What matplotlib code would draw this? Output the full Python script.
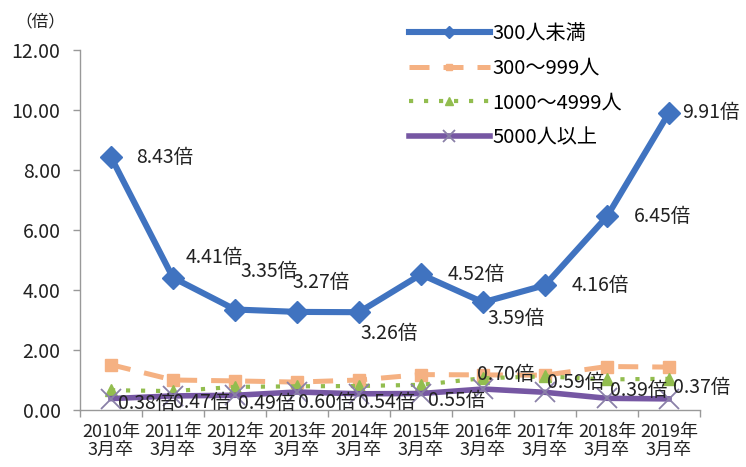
import matplotlib
matplotlib.use("Agg")
import matplotlib.pyplot as plt
from matplotlib.ticker import FixedLocator, NullFormatter

plt.rcParams['font.family'] = ['Noto Sans CJK JP', 'DejaVu Sans']

years = ["2010年\n3月卒", "2011年\n3月卒", "2012年\n3月卒", "2013年\n3月卒", "2014年\n3月卒",
         "2015年\n3月卒", "2016年\n3月卒", "2017年\n3月卒", "2018年\n3月卒", "2019年\n3月卒"]
under_300 = [8.43, 4.41, 3.35, 3.27, 3.26, 4.52, 3.59, 4.16, 6.45, 9.91]
from_300_999 = [1.51, 1.00, 0.97, 0.93, 1.00, 1.18, 1.17, 1.16, 1.45, 1.43]
from_1000_4999 = [0.66, 0.63, 0.77, 0.79, 0.80, 0.84, 1.06, 1.12, 1.02, 1.04]
over_5000 = [0.38, 0.47, 0.49, 0.60, 0.54, 0.55, 0.70, 0.59, 0.39, 0.37]
series_names = ["300人未満", "300～999人", "1000～4999人", "5000人以上"]

# label offsets in pixels (dx to left edge, dy upward)
off_under_300 = [(25, 0), (13, 20), (5, 38), (-5, 29), (1, -21),
                 (27, 0), (4, -16), (27, 0), (27, 0), (13, 0)]
off_over_5000 = [(7, -5), (0, -7), (3, -8), (1, -11), (-1, -9),
                 (7, -7), (-6, 14), (2, 10), (3, 8), (4, 11)]

FS = 14

fig = plt.figure(figsize=(7.46, 4.67), dpi=100)
ax = fig.add_axes([80 / 746, 57 / 467, 620 / 746, 360 / 467])

x = list(range(len(years)))

blue = "#4073c0"
orange = "#f5b182"
green = "#92bd4f"
purple = "#7657a3"

ax.plot(x, from_300_999, color=orange, lw=3.6, dashes=(4, 2.8),
        marker="s", ms=8, mfc=orange, mec=orange, label=series_names[1], zorder=3)
ax.plot(x, from_1000_4999, color=green, lw=3.0, dashes=(1, 2.6),
        marker="^", ms=9, mfc=green, mec=green, label=series_names[2], zorder=3)
ax.plot(x, over_5000, color=purple, lw=4.0,
        marker="x", ms=15, mec="#8a80a8", mew=1.3, label=series_names[3], zorder=4)
ax.plot(x, under_300, color=blue, lw=4.4,
        marker="D", ms=11, mfc=blue, mec=blue, label=series_names[0], zorder=5)

for i, v in enumerate(under_300):
    ax.annotate(f"{v:.2f}倍", (i, v), xytext=off_under_300[i], textcoords="offset pixels",
                ha="left", va="center", fontsize=FS, color="#222222", zorder=6)
for i, v in enumerate(over_5000):
    ax.annotate(f"{v:.2f}倍", (i, v), xytext=off_over_5000[i], textcoords="offset pixels",
                ha="left", va="center", fontsize=FS, color="#222222", zorder=6)

ax.set_xlim(-0.5, len(years) - 0.5)
ax.set_ylim(0, 12)
ax.set_yticks([0, 2, 4, 6, 8, 10, 12])
ax.set_yticklabels([f"{t:.2f}" for t in [0, 2, 4, 6, 8, 10, 12]])
ax.set_xticks(x)
ax.set_xticklabels(years, linespacing=1.05)
ax.xaxis.set_minor_locator(FixedLocator([i - 0.5 for i in range(len(years) + 1)]))
ax.xaxis.set_minor_formatter(NullFormatter())
ax.tick_params(axis="x", which="major", length=0, pad=9, labelsize=13, colors="#222222")
ax.tick_params(axis="x", which="minor", length=5, color="#999999", width=1)
ax.tick_params(axis="y", length=5, width=1, color="#999999", pad=9, labelsize=FS,
               labelcolor="#222222")

for s in ["top", "right"]:
    ax.spines[s].set_visible(False)
for s in ["left", "bottom"]:
    ax.spines[s].set_color("#999999")
    ax.spines[s].set_linewidth(1)

handles, labels = ax.get_legend_handles_labels()
order = [3, 0, 1, 2]
leg = ax.legend([handles[i] for i in order], [labels[i] for i in order],
                loc="upper left", bbox_to_anchor=(391 / 746, 1 - 5 / 467),
                bbox_transform=fig.transFigure, frameon=False, fontsize=14.5,
                handlelength=4.0, handletextpad=0.15, labelspacing=0.68, markerscale=0.6)

fig.text(15 / 746, 1 - 22 / 467, "（倍）", fontsize=12, va="center", ha="left", color="#222222")

fig.savefig("out.png", dpi=100)
